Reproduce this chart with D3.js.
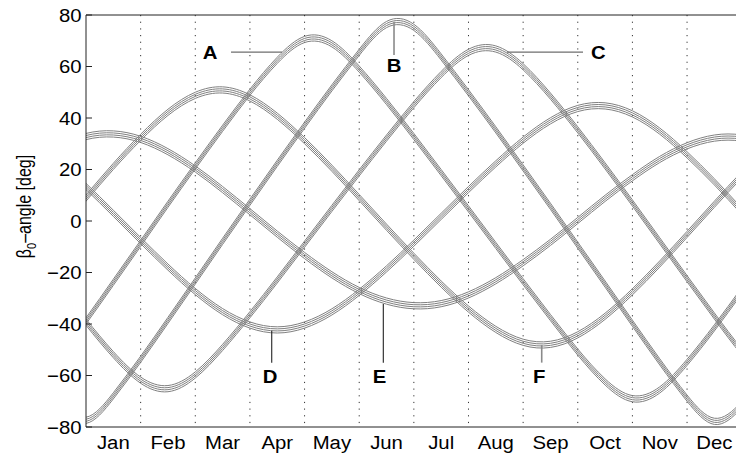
<!DOCTYPE html>
<html>
<head>
<meta charset="utf-8">
<script src="https://cdn.jsdelivr.net/npm/d3@7"></script>
<style>
  body { margin: 0; background: #fff; }
  svg { display: block; font-family: "Liberation Sans", Arial, Helvetica, sans-serif; }
</style>
</head>
<body>
<div id="chart"></div>
<script>
// sample times, months after 1 Jan
var months = [-0.5, 0, 0.5, 1, 1.5, 2, 2.5, 3, 3.5, 4, 4.5, 5, 5.5, 6, 6.5, 7, 7.5, 8, 8.5, 9, 9.5, 10, 10.5, 11, 11.5, 12, 12.5];
var monthNames = ["Jan", "Feb", "Mar", "Apr", "May", "Jun", "Jul", "Aug", "Sep", "Oct", "Nov", "Dec"];
var yTicks = [-80, -60, -40, -20, 0, 20, 40, 60, 80];

// beta0 angle [deg] of each satellite, four per orbital plane
var betaA1 = [-54.4, -40.0, -25.0, -9.9, 5.3, 20.2, 34.8, 48.8, 61.2, 69.3, 67.6, 57.8, 45.2, 31.6, 17.6, 3.5, -10.7, -24.8, -38.7, -52.1, -63.7, -70.2, -66.8, -56.1, -42.7, -28.3, -13.6];
var betaA2 = [-53.6, -39.2, -24.2, -9.1, 6.1, 21.0, 35.6, 49.6, 62.0, 70.1, 68.4, 58.6, 46.0, 32.4, 18.4, 4.3, -9.9, -24.0, -37.9, -51.3, -62.9, -69.4, -66.0, -55.3, -41.9, -27.5, -12.8];
var betaA3 = [-52.8, -38.4, -23.4, -8.3, 6.9, 21.8, 36.4, 50.4, 62.8, 70.9, 69.2, 59.4, 46.8, 33.2, 19.2, 5.1, -9.1, -23.2, -37.1, -50.5, -62.1, -68.6, -65.2, -54.5, -41.1, -26.7, -12.0];
var betaA4 = [-52.0, -37.6, -22.6, -7.5, 7.7, 22.6, 37.2, 51.2, 63.6, 71.7, 70.0, 60.2, 47.6, 34.0, 20.0, 5.9, -8.3, -22.4, -36.3, -49.7, -61.3, -67.8, -64.4, -53.7, -40.3, -25.9, -11.2];

var betaB1 = [-72.9, -78.6, -69.1, -54.9, -39.8, -24.5, -9.1, 6.1, 21.2, 36.0, 50.5, 64.3, 75.1, 74.0, 62.5, 48.6, 34.2, 19.4, 4.5, -10.6, -25.7, -40.9, -55.9, -70.0, -79.0, -72.5, -58.7];
var betaB2 = [-72.1, -77.8, -68.3, -54.1, -39.0, -23.7, -8.3, 6.9, 22.0, 36.8, 51.3, 65.1, 75.9, 74.8, 63.3, 49.4, 35.0, 20.2, 5.3, -9.8, -24.9, -40.1, -55.1, -69.2, -78.2, -71.7, -57.9];
var betaB3 = [-71.3, -77.0, -67.5, -53.3, -38.2, -22.9, -7.5, 7.7, 22.8, 37.6, 52.1, 65.9, 76.7, 75.6, 64.1, 50.2, 35.8, 21.0, 6.1, -9.0, -24.1, -39.3, -54.3, -68.4, -77.4, -70.9, -57.1];
var betaB4 = [-70.5, -76.2, -66.7, -52.5, -37.4, -22.1, -6.7, 8.5, 23.6, 38.4, 52.9, 66.7, 77.5, 76.4, 64.9, 51.0, 36.6, 21.8, 6.9, -8.2, -23.3, -38.5, -53.5, -67.6, -76.6, -70.1, -56.3];

var betaC1 = [-26.7, -40.5, -53.1, -63.0, -66.3, -61.0, -50.3, -37.6, -24.1, -10.2, 3.7, 17.5, 31.0, 44.0, 55.7, 64.3, 65.6, 58.7, 47.3, 34.2, 20.2, 5.8, -8.9, -23.6, -38.1, -52.0, -64.0];
var betaC2 = [-25.9, -39.7, -52.3, -62.2, -65.5, -60.2, -49.5, -36.8, -23.3, -9.4, 4.5, 18.3, 31.8, 44.8, 56.5, 65.1, 66.4, 59.5, 48.1, 35.0, 21.0, 6.6, -8.1, -22.8, -37.3, -51.2, -63.2];
var betaC3 = [-25.1, -38.9, -51.5, -61.4, -64.7, -59.4, -48.7, -36.0, -22.5, -8.6, 5.3, 19.1, 32.6, 45.6, 57.3, 65.9, 67.2, 60.3, 48.9, 35.8, 21.8, 7.4, -7.3, -22.0, -36.5, -50.4, -62.4];
var betaC4 = [-24.3, -38.1, -50.7, -60.6, -63.9, -58.6, -47.9, -35.2, -21.7, -7.8, 6.1, 19.9, 33.4, 46.4, 58.1, 66.7, 68.0, 61.1, 49.7, 36.6, 22.6, 8.2, -6.5, -21.2, -35.7, -49.6, -61.6];

var betaD1 = [21.9, 12.2, 1.8, -8.8, -19.1, -28.6, -36.4, -41.6, -43.5, -41.6, -36.5, -28.9, -19.8, -9.8, 0.6, 11.0, 21.0, 30.2, 37.7, 42.5, 43.5, 40.4, 33.7, 24.5, 14.0, 2.6, -9.0];
var betaD2 = [22.7, 13.0, 2.6, -8.0, -18.3, -27.8, -35.6, -40.8, -42.7, -40.8, -35.7, -28.1, -19.0, -9.0, 1.4, 11.8, 21.8, 31.0, 38.5, 43.3, 44.3, 41.2, 34.5, 25.3, 14.8, 3.4, -8.2];
var betaD3 = [23.5, 13.8, 3.4, -7.2, -17.5, -27.0, -34.8, -40.0, -41.9, -40.0, -34.9, -27.3, -18.2, -8.2, 2.2, 12.6, 22.6, 31.8, 39.3, 44.1, 45.1, 42.0, 35.3, 26.1, 15.6, 4.2, -7.4];
var betaD4 = [24.3, 14.6, 4.2, -6.4, -16.7, -26.2, -34.0, -39.2, -41.1, -39.2, -34.1, -26.5, -17.4, -7.4, 3.0, 13.4, 23.4, 32.6, 40.1, 44.9, 45.9, 42.8, 36.1, 26.9, 16.4, 5.0, -6.6];

var betaE1 = [27.7, 31.6, 32.6, 30.5, 25.7, 19.0, 11.0, 2.4, -6.3, -14.6, -22.1, -28.2, -32.3, -34.1, -33.3, -29.9, -24.4, -17.4, -9.5, -1.0, 7.6, 15.6, 22.7, 28.0, 31.0, 31.0, 28.2];
var betaE2 = [28.5, 32.4, 33.4, 31.3, 26.5, 19.8, 11.8, 3.2, -5.5, -13.8, -21.3, -27.4, -31.5, -33.3, -32.5, -29.1, -23.6, -16.6, -8.7, -0.2, 8.4, 16.4, 23.5, 28.8, 31.8, 31.8, 29.0];
var betaE3 = [29.3, 33.2, 34.2, 32.1, 27.3, 20.6, 12.6, 4.0, -4.7, -13.0, -20.5, -26.6, -30.7, -32.5, -31.7, -28.3, -22.8, -15.8, -7.9, 0.6, 9.2, 17.2, 24.3, 29.6, 32.6, 32.6, 29.8];
var betaE4 = [30.1, 34.0, 35.0, 32.9, 28.1, 21.4, 13.4, 4.8, -3.9, -12.2, -19.7, -25.8, -29.9, -31.7, -30.9, -27.5, -22.0, -15.0, -7.1, 1.4, 10.0, 18.0, 25.1, 30.4, 33.4, 33.4, 30.6];

var betaF1 = [-5.0, 7.7, 20.0, 31.3, 41.0, 47.6, 49.7, 46.6, 39.5, 30.0, 19.3, 7.9, -3.6, -14.9, -25.7, -35.4, -43.3, -48.3, -49.1, -45.4, -38.2, -28.7, -17.9, -6.4, 5.3, 16.7, 27.6];
var betaF2 = [-4.2, 8.5, 20.8, 32.1, 41.8, 48.4, 50.5, 47.4, 40.3, 30.8, 20.1, 8.7, -2.8, -14.1, -24.9, -34.6, -42.5, -47.5, -48.3, -44.6, -37.4, -27.9, -17.1, -5.6, 6.1, 17.5, 28.4];
var betaF3 = [-3.4, 9.3, 21.6, 32.9, 42.6, 49.2, 51.3, 48.2, 41.1, 31.6, 20.9, 9.5, -2.0, -13.3, -24.1, -33.8, -41.7, -46.7, -47.5, -43.8, -36.6, -27.1, -16.3, -4.8, 6.9, 18.3, 29.2];
var betaF4 = [-2.6, 10.1, 22.4, 33.7, 43.4, 50.0, 52.1, 49.0, 41.9, 32.4, 21.7, 10.3, -1.2, -12.5, -23.3, -33.0, -40.9, -45.9, -46.7, -43.0, -35.8, -26.3, -15.5, -4.0, 7.7, 19.1, 30.0];

// plane labels: label point and leader line ends, in [month, deg]
var planeNames = ["A", "B", "C", "D", "E", "F"];
var labelAt = [[2.27, 62.8], [5.637, 58.0], [9.376, 62.8], [3.367, -62.8], [5.371, -62.9], [8.296, -63.0]];
var leaderFrom = [[2.654, 65.6], [5.637, 77.4], [7.705, 65.6], [3.399, -42.6], [5.441, -32.2], [8.34, -48.2]];
var leaderTo = [[3.587, 65.6], [5.637, 64.5], [9.096, 65.6], [3.399, -55.0], [5.441, -55.0], [8.34, -55.0]];
var leaderColor = ["#6e6e6e", "#8a8a8a", "#6e6e6e", "#222", "#222", "#8a8a8a"];

var satellites = [
  betaA1, betaA2, betaA3, betaA4,
  betaB1, betaB2, betaB3, betaB4,
  betaC1, betaC2, betaC3, betaC4,
  betaD1, betaD2, betaD3, betaD4,
  betaE1, betaE2, betaE3, betaE4,
  betaF1, betaF2, betaF3, betaF4
];

var svgWidth = 736;
var svgHeight = 456;
var margin = { top: 15, left: 86 };
var width = 655.7;   // 12 months, right edge runs off the picture
var height = 412;
var stretch = 1.13;  // text in the picture is a bit wide

var svg = d3.select("#chart")
  .append("svg")
  .attr("width", svgWidth)
  .attr("height", svgHeight);

var chartGroup = svg.append("g")
  .attr("transform", `translate(${margin.left}, ${margin.top})`);

var x = d3.scaleLinear().domain([0, 12]).range([0, width]);
var y = d3.scaleLinear().domain([-80, 80]).range([height, 0]);

chartGroup.append("clipPath")
  .attr("id", "plotClip")
  .append("rect")
  .attr("width", width)
  .attr("height", height);

// dotted month separators
chartGroup.selectAll(".sep")
  .data(d3.range(1, 12))
  .enter()
  .append("line")
  .attr("x1", d => x(d))
  .attr("x2", d => x(d))
  .attr("y1", 0)
  .attr("y2", height)
  .attr("stroke", "#333")
  .attr("stroke-width", 1)
  .attr("stroke-dasharray", "1.2,5.47");

var line = d3.line()
  .x(d => x(d[0]))
  .y(d => y(d[1]))
  .curve(d3.curveNatural);

chartGroup.append("g")
  .attr("clip-path", "url(#plotClip)")
  .selectAll("path")
  .data(satellites)
  .enter()
  .append("path")
  .attr("d", d => line(d3.zip(months, d)))
  .attr("fill", "none")
  .attr("stroke", "#808080")
  .attr("stroke-width", 1);

// axes box
chartGroup.append("line")
  .attr("x1", 0).attr("x2", width).attr("y1", 0).attr("y2", 0)
  .attr("stroke", "#222");
chartGroup.append("line")
  .attr("x1", 0).attr("x2", width).attr("y1", height).attr("y2", height)
  .attr("stroke", "#222");
chartGroup.append("line")
  .attr("x1", 0).attr("x2", 0).attr("y1", 0).attr("y2", height)
  .attr("stroke", "#222");

chartGroup.selectAll(".ytick")
  .data(yTicks)
  .enter()
  .append("line")
  .attr("x1", 0)
  .attr("x2", 6)
  .attr("y1", d => y(d))
  .attr("y2", d => y(d))
  .attr("stroke", "#222");

chartGroup.selectAll(".ylab")
  .data(yTicks)
  .enter()
  .append("text")
  .attr("transform", d => `translate(-4.5, ${y(d)}) scale(${stretch}, 1)`)
  .attr("dy", "0.38em")
  .attr("text-anchor", "end")
  .style("font-size", "18px")
  .text(d => d < 0 ? "\u2212" + Math.abs(d) : d);

chartGroup.selectAll(".month")
  .data(monthNames)
  .enter()
  .append("text")
  .attr("transform", (d, i) => `translate(${x(i + 0.5)}, ${height + 22}) scale(${stretch}, 1)`)
  .attr("text-anchor", "middle")
  .style("font-size", "18px")
  .text(d => d);

// y axis title
var yTitle = svg.append("text")
  .attr("transform", "translate(31, 206.5) rotate(-90) scale(1, 1.22)")
  .attr("text-anchor", "middle")
  .style("font-size", "16px");
yTitle.append("tspan").text("\u03b2");
yTitle.append("tspan").attr("dy", 4).style("font-size", "11px").text("0");
yTitle.append("tspan").attr("dy", -4).text("\u2013angle [deg]");

// plane labels with leader lines
chartGroup.selectAll(".leader")
  .data(planeNames)
  .enter()
  .append("line")
  .attr("x1", (d, i) => x(leaderFrom[i][0]))
  .attr("y1", (d, i) => y(leaderFrom[i][1]))
  .attr("x2", (d, i) => x(leaderTo[i][0]))
  .attr("y2", (d, i) => y(leaderTo[i][1]))
  .attr("stroke", (d, i) => leaderColor[i])
  .attr("stroke-width", (d, i) => (i == 1 || i == 5) ? 1.6 : 1.1);

chartGroup.selectAll(".plane")
  .data(planeNames)
  .enter()
  .append("text")
  .attr("transform", (d, i) => `translate(${x(labelAt[i][0])}, ${y(labelAt[i][1])}) scale(${stretch}, 1)`)
  .attr("text-anchor", "middle")
  .style("font-size", "18px")
  .style("font-weight", "bold")
  .text(d => d);
</script>
</body>
</html>
